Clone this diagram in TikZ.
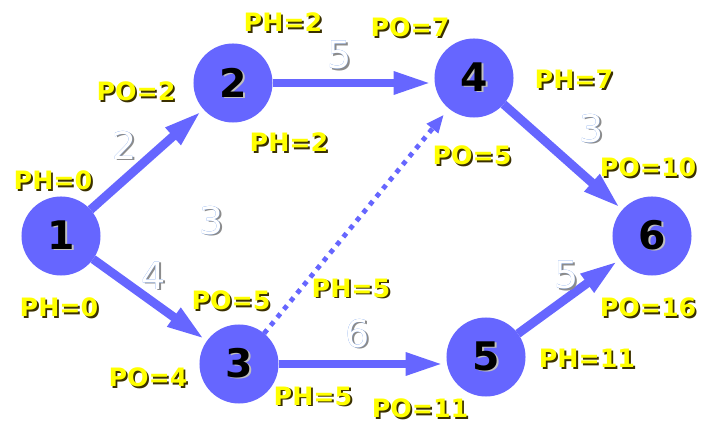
\documentclass[tikz,border=0pt]{standalone}
\usepackage{fontspec}
\setmainfont{DejaVu Sans}
\usetikzlibrary{arrows.meta}
\definecolor{eventFill}{HTML}{6666FF}
\definecolor{timeYellow}{HTML}{FFFF00}
\definecolor{timeShadow}{HTML}{3A3000}
\definecolor{weightShadow}{HTML}{8C8C8C}
\definecolor{weightEdge}{HTML}{3070E0}

% shadowed texts
\newcommand{\timetext}[1]{\makebox[0pt][l]{\hspace{1.3pt}\raisebox{-1.3pt}{\color{timeShadow}#1}}\color{timeYellow}#1}
\newcommand{\weighttext}[1]{\makebox[0pt][l]{\hspace{0.9pt}\raisebox{-0.9pt}{\color{weightShadow}#1}}\makebox[0pt][l]{\hspace{-0.5pt}\color{weightEdge}#1}\color{white}#1}
\newcommand{\eventtext}[1]{\makebox[0pt][l]{\hspace{1.4pt}\raisebox{-0.8pt}{\color{black!25}#1}}#1}

\begin{document}
\begin{tikzpicture}[
    x=0.025cm,y=-0.025cm,
    event/.style={circle,fill=eventFill,minimum size=1.975cm,inner sep=0pt,outer sep=0pt,
        font=\fontsize{28}{28}\bfseries\selectfont},
    activity/.style={-{Triangle[length=0.95cm,width=0.52cm]},line width=0.22cm,eventFill,
        shorten >=0.07cm},
    dummy/.style={-{Triangle[length=0.45cm,width=0.35cm]},line width=0.12cm,eventFill,
        dash pattern=on 0.12cm off 0.14cm,shorten >=0.2cm},
    time/.style={font=\fontsize{18}{18}\bfseries\selectfont,inner sep=0pt},
    weight/.style={font=\fontsize{27}{27}\selectfont,inner sep=0pt},
]
\useasboundingbox (0,0) rectangle (712,432);

% === EVENTS ===
\node[event] (ev1) at (61,236)  {\eventtext{1}};
\node[event] (ev2) at (233,83)  {\eventtext{2}};
\node[event] (ev3) at (239,364) {\eventtext{3}};
\node[event] (ev4) at (474,78)  {\eventtext{4}};
\node[event] (ev5) at (486,357) {\eventtext{5}};
\node[event] (ev6) at (652,236) {\eventtext{6}};

% === ACTIVITIES ===
\draw[activity] (ev1) -- (ev2);
\draw[activity] (ev1) -- (ev3);
\draw[activity] (ev2.east) -- (ev2.east -| ev4.west);
\draw[activity] (ev3.east) -- (ev3.east -| ev5.west);
\draw[activity] (ev4) -- (ev6);
\draw[activity] (ev5) -- (ev6);
\draw[dummy] (ev3) -- (ev4);

% Durations
\node[weight] (w12) at (125,146) {\weighttext{2}};
\node[weight] (w13) at (154,276) {\weighttext{4}};
\node[weight] (w24) at (340,56)  {\weighttext{5}};
\node[weight] (w34) at (212,221) {\weighttext{3}};
\node[weight] (w35) at (358,334) {\weighttext{6}};
\node[weight] (w46) at (592,129) {\weighttext{3}};
\node[weight] (w56) at (567,276) {\weighttext{5}};

% === EARLY / LATE TIMES ===
\node[time] (ph1a) at (53,181)  {\timetext{PH=0}};
\node[time] (ph1b) at (59,308)  {\timetext{PH=0}};
\node[time] (po2)  at (136,92)  {\timetext{PO=2}};
\node[time] (ph2a) at (283,23)  {\timetext{PH=2}};
\node[time] (ph2b) at (289,143) {\timetext{PH=2}};
\node[time] (po3a) at (231,301) {\timetext{PO=5}};
\node[time] (po3b) at (148,378) {\timetext{PO=4}};
\node[time] (ph3a) at (351,289) {\timetext{PH=5}};
\node[time] (ph3b) at (313,397) {\timetext{PH=5}};
\node[time] (po4a) at (410,28)  {\timetext{PO=7}};
\node[time] (po4b) at (472,156) {\timetext{PO=5}};
\node[time] (ph4)  at (574,80)  {\timetext{PH=7}};
\node[time] (po5)  at (420,409) {\timetext{PO=11}};
\node[time] (ph5)  at (587,359) {\timetext{PH=11}};
\node[time] (po6a) at (648,168) {\timetext{PO=10}};
\node[time] (po6b) at (648,308) {\timetext{PO=16}};

\end{tikzpicture}
\end{document}
